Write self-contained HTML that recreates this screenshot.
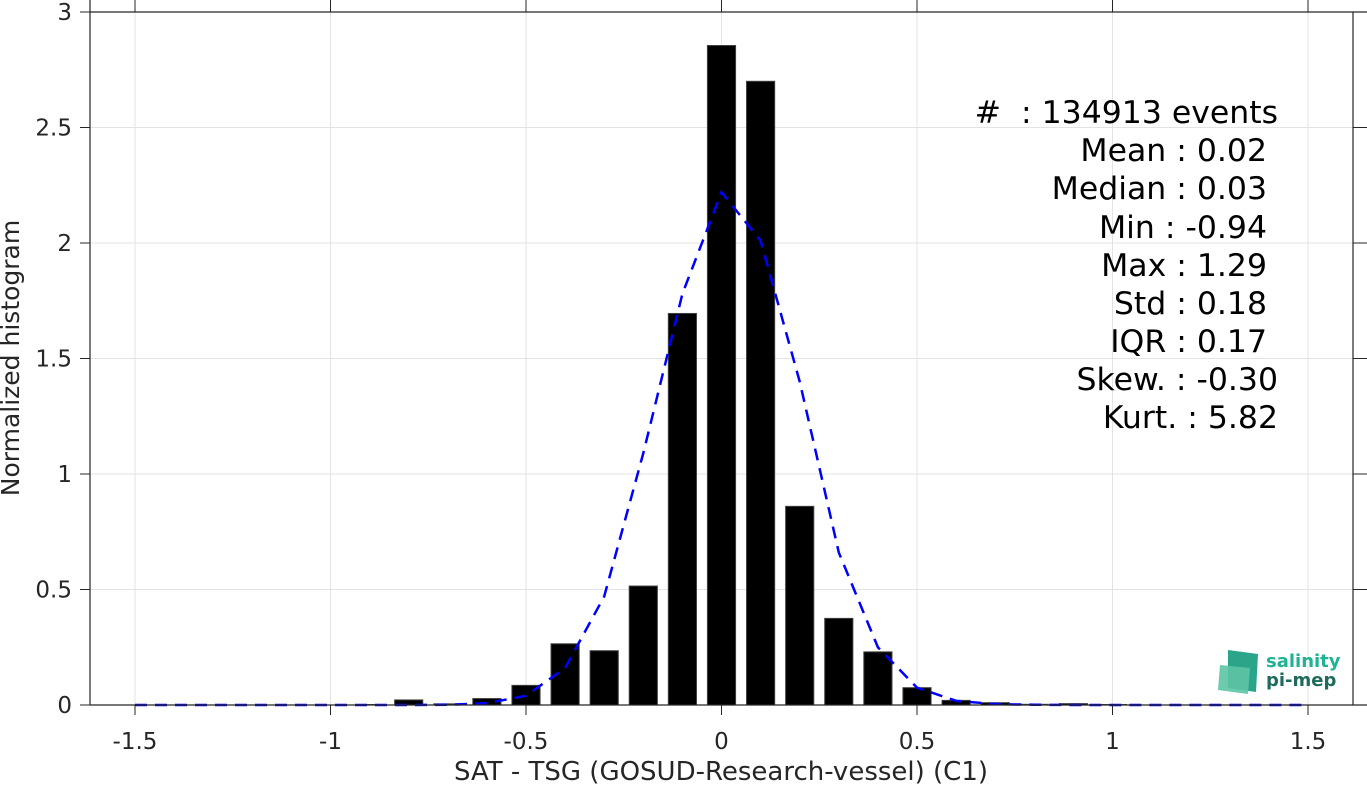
<!DOCTYPE html>
<html><head><meta charset="utf-8"><style>
body{margin:0;background:#fff;}
svg{display:block;font-family:"DejaVu Sans","Liberation Sans",sans-serif;}
</style></head><body>
<svg id="chart" width="1367" height="785">
<g id="grid"></g>
<g id="bars"></g>
<polyline id="fit" fill="none" stroke="#0000ff" stroke-width="2.5" stroke-dasharray="12,8"/>
<g id="axes"></g>
<text x="19" y="358" transform="rotate(-90 19 358)" text-anchor="middle" font-size="25" fill="#262626">Normalized histogram</text>
<text x="721" y="780" text-anchor="middle" font-size="26" fill="#262626">SAT - TSG (GOSUD-Research-vessel) (C1)</text>
<g font-size="31.5" fill="#000" text-anchor="end">
<text x="1278" y="123" xml:space="preserve">#  : 134913 events</text>
<text x="1267" y="161">Mean : 0.02</text>
<text x="1267" y="199">Median : 0.03</text>
<text x="1267" y="238">Min : -0.94</text>
<text x="1267" y="276">Max : 1.29</text>
<text x="1267" y="314">Std : 0.18</text>
<text x="1267" y="352">IQR : 0.17</text>
<text x="1278" y="390">Skew. : -0.30</text>
<text x="1278" y="428">Kurt. : 5.82</text>
</g>
<g>
<polygon points="1228,650 1258,654 1256,692 1228,688" fill="#2aa58a"/>
<polygon points="1220,665 1250,668 1248,694 1218,690" fill="#5cc4a4" opacity="0.9"/>
<text x="1266" y="667" font-size="18" font-weight="bold" fill="#1fb394">salinity</text>
<text x="1266" y="686" font-size="18" font-weight="bold" fill="#1c6b5b">pi-mep</text>
</g>
</svg>
<script>
const binCenters=[-0.9,-0.8,-0.7,-0.6,-0.5,-0.4,-0.3,-0.2,-0.1,0,0.1,0.2,0.3,0.4,0.5,0.6,0.7,0.8,0.9,1.0];
const binValues=[0.002,0.022,0.005,0.028,0.085,0.265,0.235,0.515,1.695,2.855,2.70,0.86,0.375,0.23,0.075,0.02,0.01,0.003,0.006,0.002];
const fitX=[-1.5,-1.4,-1.3,-1.2,-1.1,-1.0,-0.9,-0.8,-0.7,-0.6,-0.5,-0.4,-0.3,-0.2,-0.1,0,0.1,0.2,0.3,0.4,0.5,0.6,0.7,0.8,0.9,1.0,1.1,1.2,1.3,1.4,1.5];
const fitY=[0,0,0,0,0,0,0,0,0.001,0.008,0.04,0.16,0.47,1.09,1.78,2.22,2.01,1.40,0.66,0.25,0.075,0.018,0.004,0.001,0,0,0,0,0,0,0];
const xTicks=[-1.5,-1,-0.5,0,0.5,1,1.5];
const xTickLabels=["-1.5","-1","-0.5","0","0.5","1","1.5"];
const yTicks=[0,0.5,1,1.5,2,2.5,3];
const yTickLabels=["0","0.5","1","1.5","2","2.5","3"];
const L=90,R=1353,T=12,B=705;
const sx=v=>721.5+v*391;
const sy=v=>B-(v/3)*(B-T);
const NS="http://www.w3.org/2000/svg";
function mk(p,t,a){const e=document.createElementNS(NS,t);for(const k in a)e.setAttribute(k,a[k]);p.appendChild(e);return e;}
const grid=document.getElementById('grid'),bars=document.getElementById('bars'),axes=document.getElementById('axes');
xTicks.forEach((v,i)=>{
 const g=mk(grid,'line',{x1:sx(v),x2:sx(v),y1:T,y2:B,stroke:'#e3e3e3','stroke-width':1});
 
 
 mk(axes,'line',{x1:sx(v),x2:sx(v),y1:B,y2:B+10,stroke:'#262626','stroke-width':1});
 mk(axes,'line',{x1:sx(v),x2:sx(v),y1:T,y2:0,stroke:'#262626','stroke-width':1});
 const t=mk(axes,'text',{x:sx(v),y:B+44,'text-anchor':'middle','font-size':23,fill:'#262626'});
 t.textContent=xTickLabels[i];
 
 
});
yTicks.forEach((v,i)=>{
 const g=mk(grid,'line',{x1:L,x2:1367,y1:sy(v),y2:sy(v),stroke:'#e3e3e3','stroke-width':1});
 
 
 mk(axes,'line',{x1:L-10,x2:L,y1:sy(v),y2:sy(v),stroke:'#262626','stroke-width':1});
 mk(axes,'line',{x1:R,x2:1367,y1:sy(v),y2:sy(v),stroke:'#262626','stroke-width':1});
 const t=mk(axes,'text',{x:L-18,y:sy(v)+8,'text-anchor':'end','font-size':23,fill:'#262626'});
 t.textContent=yTickLabels[i];
 
 
});
mk(axes,'line',{x1:L,x2:1367,y1:B,y2:B,stroke:'#262626','stroke-width':1.2});
mk(axes,'line',{x1:L,x2:1367,y1:T,y2:T,stroke:'#262626','stroke-width':1.2});
mk(axes,'line',{x1:L,x2:L,y1:0,y2:B,stroke:'#262626','stroke-width':1.2});
mk(axes,'line',{x1:R,x2:R,y1:T,y2:B,stroke:'#262626','stroke-width':1.2});
const bw=0.072*391;
binCenters.forEach((c,i)=>{
 const y=sy(binValues[i]);
 const r=mk(bars,'rect',{x:sx(c)-bw/2,y:y,width:bw,height:B-y,fill:'#000',stroke:'#404040','stroke-width':1});
 
 
});
document.getElementById('fit').setAttribute('points',fitX.map((x,i)=>sx(x)+','+sy(fitY[i])).join(' '));
</script>
</body></html>
